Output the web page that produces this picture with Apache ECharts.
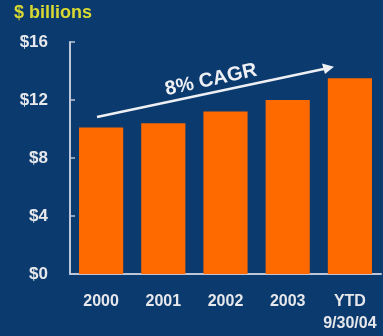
<!DOCTYPE html>
<html>
<head>
<meta charset="utf-8">
<script src="https://cdn.jsdelivr.net/npm/echarts@6/dist/echarts.min.js"></script>
<style>
  html, body { margin: 0; padding: 0; background: #0b3a6e; }
  #chart { width: 383px; height: 336px; }
</style>
</head>
<body>
<div id="chart"></div>
<script>
// Annual revenue, $ billions
const categories = ['2000', '2001', '2002', '2003', 'YTD\n9/30/04'];
const revenue = [10.1, 10.4, 11.2, 12.0, 13.5];
const yTicks = [0, 4, 8, 12, 16];

const chart = echarts.init(document.getElementById('chart'));

const labelFont = {
  color: '#e6e8ec',
  fontFamily: 'Liberation Sans, Arial, sans-serif',
  fontWeight: 'bold'
};

chart.setOption({
  backgroundColor: '#0b3a6e',
  animation: false,
  grid: { left: 70, right: 2, top: 42, bottom: 62 },
  xAxis: {
    type: 'category',
    data: categories,
    axisLine: { lineStyle: { color: '#bcc6d8', width: 2 } },
    axisTick: { inside: true, length: 5, lineStyle: { color: '#bcc6d8', width: 1.5 } },
    axisLabel: Object.assign({
      fontSize: 16, lineHeight: 22, margin: 17,
      interval: 0, hideOverlap: false
    }, labelFont)
  },
  yAxis: {
    type: 'value',
    min: yTicks[0],
    max: yTicks[yTicks.length - 1],
    interval: 4,
    splitLine: { show: false },
    axisLine: { show: true, lineStyle: { color: '#bcc6d8', width: 2 } },
    axisTick: { show: true, inside: true, length: 5, lineStyle: { color: '#bcc6d8', width: 1.5 } },
    axisLabel: Object.assign({ fontSize: 17, margin: 22, formatter: v => '$' + v }, labelFont)
  },
  series: [{
    type: 'bar',
    data: revenue,
    barCategoryGap: '29%',
    itemStyle: { color: '#ff6a00' }
  }],
  graphic: [
    {
      type: 'text',
      left: 14, top: 4,
      style: {
        text: '$ billions',
        fill: '#d8d832',
        font: 'bold 18px "Liberation Sans", Arial, sans-serif'
      }
    },
    {
      type: 'line',
      shape: { x1: 97, y1: 117, x2: 326, y2: 68.5 },
      style: { stroke: '#eef0f4', lineWidth: 2.5 }
    },
    {
      type: 'polygon',
      shape: { points: [[334, 66.8], [322, 63.5], [325, 74]] },
      style: { fill: '#eef0f4' }
    },
    {
      type: 'text',
      x: 211, y: 80,
      rotation: 12.3 * Math.PI / 180,
      style: {
        text: '8% CAGR',
        fill: '#eef0f4',
        align: 'center',
        verticalAlign: 'middle',
        font: 'bold 20px "Liberation Sans", Arial, sans-serif'
      }
    }
  ]
});
</script>
</body>
</html>
